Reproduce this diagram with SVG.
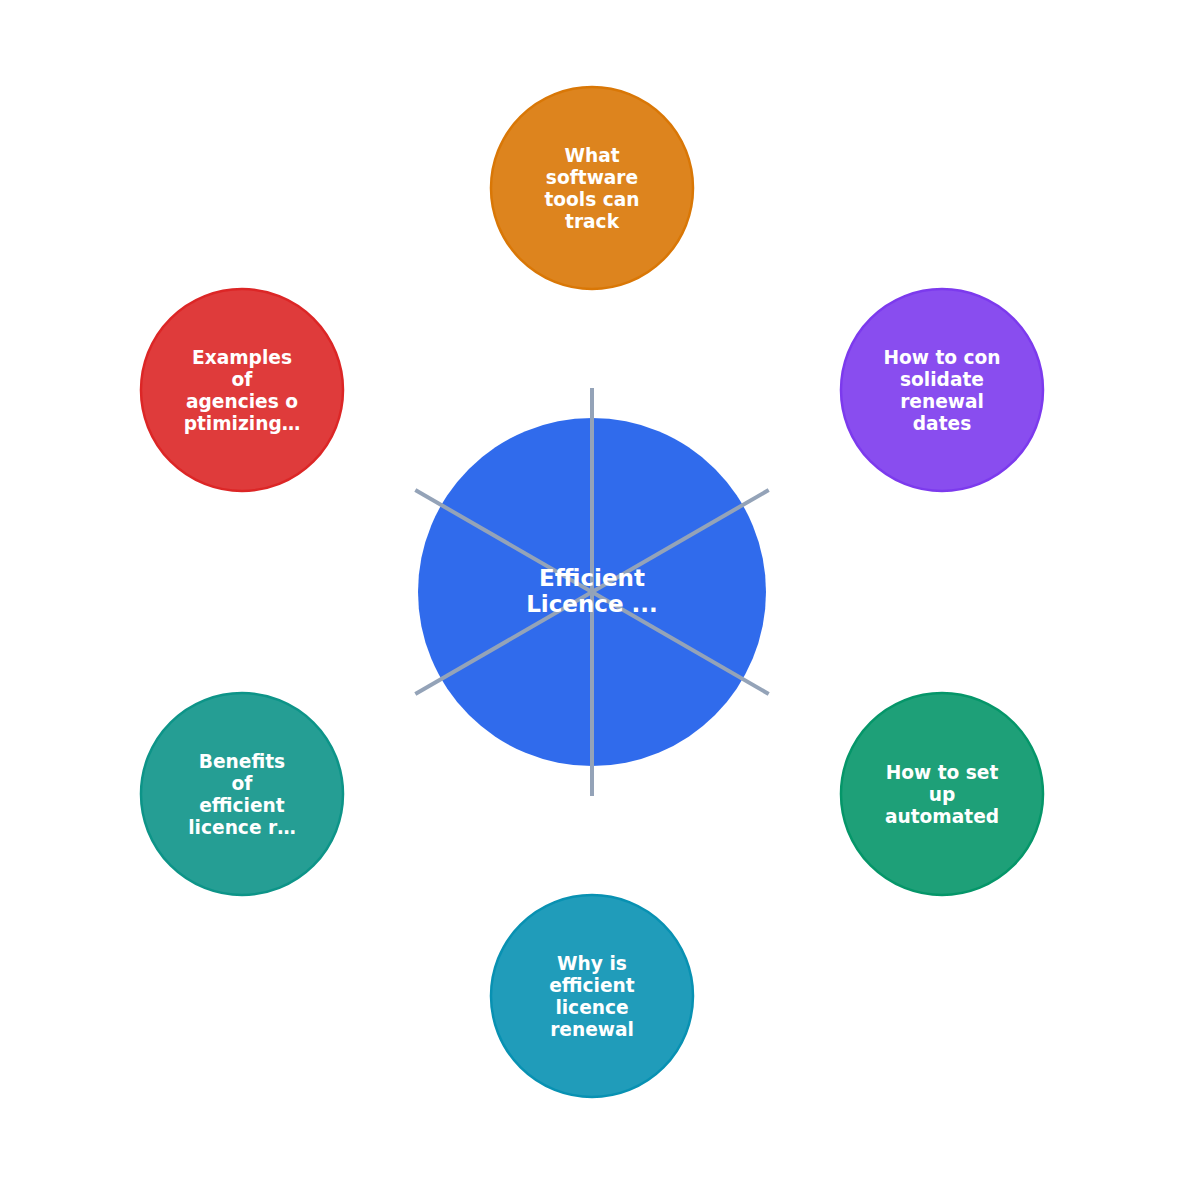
<svg xmlns="http://www.w3.org/2000/svg" width="1185" height="1185" viewBox="0 0 1185 1185">
<style>
.sat{stroke-width:2.5;fill-opacity:0.9}
.lbl{font-family:"DejaVu Sans","Liberation Sans",sans-serif;font-weight:bold;font-size:18.6px;fill:#ffffff;text-anchor:middle;dominant-baseline:central}
.clbl{font-family:"DejaVu Sans","Liberation Sans",sans-serif;font-weight:bold;font-size:23px;fill:#ffffff;text-anchor:middle;dominant-baseline:central}
.conn{stroke:#94A3B8;stroke-width:4;fill:none}
</style>
<rect width="1185" height="1185" fill="#ffffff"/>
<g id="center">
<circle cx="592" cy="592" r="174" fill="#2563EB" fill-opacity="0.95"/>
</g>
<g id="connectors">
<line class="conn" x1="592" y1="592" x2="592" y2="388"/>
<line class="conn" x1="592" y1="592" x2="768.7" y2="490"/>
<line class="conn" x1="592" y1="592" x2="768.7" y2="694"/>
<line class="conn" x1="592" y1="592" x2="592" y2="796"/>
<line class="conn" x1="592" y1="592" x2="415.3" y2="694"/>
<line class="conn" x1="592" y1="592" x2="415.3" y2="490"/>
</g>
<g id="center-label">
<text class="clbl" x="592" y="578">Efficient</text>
<text class="clbl" x="592" y="604">Licence ...</text>
</g>
<g id="node-software">
<circle class="sat" cx="592" cy="188" r="101" fill="#D97706" stroke="#D97706"/>
<text class="lbl" x="592" y="155">What</text>
<text class="lbl" x="592" y="177">software</text>
<text class="lbl" x="592" y="199">tools can</text>
<text class="lbl" x="592" y="221">track</text>
</g>
<g id="node-consolidate">
<circle class="sat" cx="942" cy="390" r="101" fill="#7C3AED" stroke="#7C3AED"/>
<text class="lbl" x="942" y="357">How to con</text>
<text class="lbl" x="942" y="379">solidate</text>
<text class="lbl" x="942" y="401">renewal</text>
<text class="lbl" x="942" y="423">dates</text>
</g>
<g id="node-automated">
<circle class="sat" cx="942" cy="794" r="101" fill="#059669" stroke="#059669"/>
<text class="lbl" x="942" y="772">How to set</text>
<text class="lbl" x="942" y="794">up</text>
<text class="lbl" x="942" y="816">automated</text>
</g>
<g id="node-why">
<circle class="sat" cx="592" cy="996" r="101" fill="#0891B2" stroke="#0891B2"/>
<text class="lbl" x="592" y="963">Why is</text>
<text class="lbl" x="592" y="985">efficient</text>
<text class="lbl" x="592" y="1007">licence</text>
<text class="lbl" x="592" y="1029">renewal</text>
</g>
<g id="node-benefits">
<circle class="sat" cx="242" cy="794" r="101" fill="#0D9488" stroke="#0D9488"/>
<text class="lbl" x="242" y="761">Benefits</text>
<text class="lbl" x="242" y="783">of</text>
<text class="lbl" x="242" y="805">efficient</text>
<text class="lbl" x="242" y="827">licence r…</text>
</g>
<g id="node-examples">
<circle class="sat" cx="242" cy="390" r="101" fill="#DC2626" stroke="#DC2626"/>
<text class="lbl" x="242" y="357">Examples</text>
<text class="lbl" x="242" y="379">of</text>
<text class="lbl" x="242" y="401">agencies o</text>
<text class="lbl" x="242" y="423">ptimizing…</text>
</g>
</svg>
